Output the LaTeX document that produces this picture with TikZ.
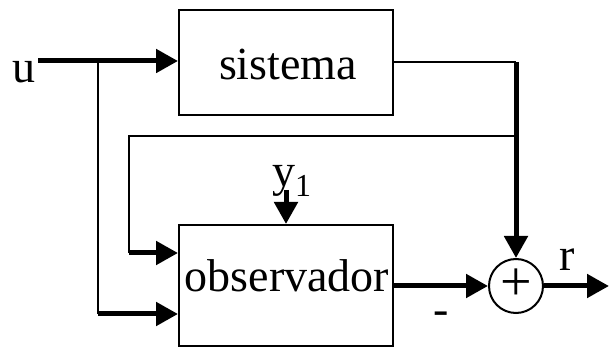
\documentclass[tikz,border=0pt]{standalone}
\usepackage{fontspec}
\setmainfont{Liberation Serif}
\usetikzlibrary{arrows.meta}
\tikzset{
  blk/.style={draw, line width=2pt, rectangle, inner sep=0pt, font=\fontsize{46}{50}\selectfont},
  sumc/.style={draw, line width=2pt, circle, minimum size=54pt, inner sep=0pt},
  thinl/.style={line width=2pt},
  thickl/.style={line width=5pt},
  arr/.style={-{Triangle[length=22pt,width=23pt]}},
  lbl/.style={inner sep=0pt, font=\fontsize{46}{50}\selectfont, anchor=base}
}
\begin{document}
\begin{tikzpicture}[x=1pt,y=-1pt]
\useasboundingbox (0,0) rectangle (614,347);
\node[blk, minimum width=214pt, minimum height=105pt] (sys) at (286,62.5) {};
\node[lbl] (systxt) at (288,80) {sistema};
\node[blk, minimum width=214pt, minimum height=121pt] (obs) at (286,285.5) {};
\node[lbl] (obstxt) at (287,292) {observador};
\node[sumc] (sum) at (516,286) {};
\node[inner sep=0pt, font=\fontsize{56}{60}\selectfont] (plus) at (516,285) {+};
\node[lbl] (u) at (24,83) {u};
\node[lbl] (r) at (567,271) {r};
\node[lbl] (minus) at (441,325) {-};
\node[lbl, anchor=base west] (y1) at (272,187) {y{\fontsize{32}{34}\selectfont\raisebox{-10pt}{1}}};
\coordinate (uin) at (38,61);
\coordinate (b1) at (98,61);
\coordinate (b2) at (98,314);
\coordinate (c1) at (516,62);
\coordinate (c2) at (516,136);
\coordinate (c3) at (129,136);
\coordinate (c4) at (129,253);
\coordinate (yin) at (286,190);
\coordinate (out) at (609,286);
% input
\draw[thickl, arr] (uin) -- (uin -| sys.west);
\draw[thinl] (b1) -- (b2);
\draw[thickl, arr] (b2) -- (b2 -| obs.west);
% system output
\draw[thinl] (sys.east |- c1) -- (c1);
\draw[thickl, arr] (c1) -- (sum.north);
% feedback to observer
\draw[thinl] (c2) -- (c3) -- (c4);
\draw[thickl, arr] (c4) -- (c4 -| obs.west);
% y1
\draw[thickl, arr] (yin) -- (yin |- obs.north);
% observer output
\draw[thickl, arr] (obs.east |- sum.west) -- (sum.west);
\draw[thickl, arr] (sum.east) -- (out);
\end{tikzpicture}
\end{document}
